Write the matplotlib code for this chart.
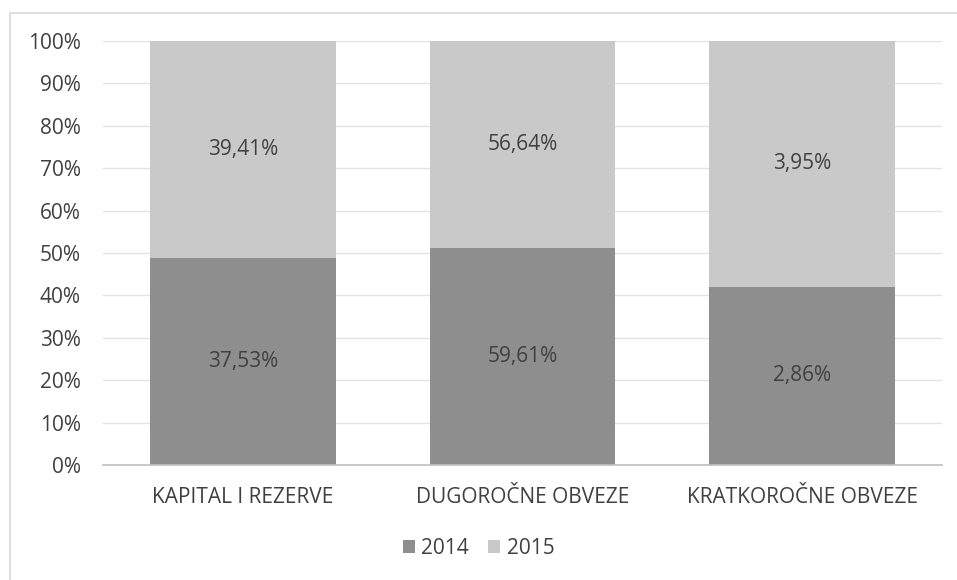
import matplotlib
import numpy as np

matplotlib.use("Agg")
import matplotlib.pyplot as plt  # noqa: E402
from matplotlib.patches import Rectangle  # noqa: E402

categories = ["KAPITAL I REZERVE", "DUGOROČNE OBVEZE", "KRATKOROČNE OBVEZE"]
years = ["2014", "2015"]
values_2014 = [37.53, 59.61, 2.86]
values_2015 = [39.41, 56.64, 3.95]
y_ticks = [0, 10, 20, 30, 40, 50, 60, 70, 80, 90, 100]

COL_2014 = "#8e8e8e"
COL_2015 = "#c9c9c9"
TXT = "#404040"
FS = 15


def fmt(v):
    return f"{v:.2f}".replace(".", ",") + "%"


def main():
    plt.rcParams["font.family"] = ["Open Sans", "DejaVu Sans"]
    v14 = np.array(values_2014)
    v15 = np.array(values_2015)
    total = v14 + v15
    share14 = v14 / total * 100
    share15 = v15 / total * 100
    x = np.arange(len(categories))

    fig = plt.figure(figsize=(9.57, 5.80), dpi=100)
    # outer chart border
    fig.patches.append(
        Rectangle((10 / 957, -0.1), 1.2, 1.1 - 13 / 580, transform=fig.transFigure,
                  facecolor="none", edgecolor="#d9d9d9", linewidth=1.2)
    )
    ax = fig.add_axes([103 / 957, 115 / 580, 839 / 957, 424 / 580])

    b1 = ax.bar(x, share14, width=0.665, color=COL_2014, label=years[0], zorder=2)
    b2 = ax.bar(x, share15, width=0.665, bottom=share14, color=COL_2015,
                label=years[1], zorder=2)
    ax.bar_label(b1, labels=[fmt(v) for v in v14], label_type="center",
                 color=TXT, fontsize=FS)
    ax.bar_label(b2, labels=[fmt(v) for v in v15], label_type="center",
                 color=TXT, fontsize=FS)

    ax.set_xlim(-0.5, len(categories) - 0.5)
    ax.set_ylim(0, 100)
    ax.set_yticks(y_ticks)
    ax.set_yticklabels([f"{t}%" for t in y_ticks])
    ax.set_xticks(x)
    ax.set_xticklabels(categories)
    ax.tick_params(axis="both", length=0, labelsize=FS, colors=TXT)
    ax.tick_params(axis="x", pad=16)
    ax.tick_params(axis="y", pad=16)
    ax.grid(axis="y", color="#e3e3e3", linewidth=1.0, zorder=0)
    for side in ["top", "left", "right"]:
        ax.spines[side].set_visible(False)
    ax.spines["bottom"].set_color("#bfbfbf")
    ax.spines["bottom"].set_linewidth(1.2)

    fig.legend(loc="center", bbox_to_anchor=(0.5, 32 / 580), ncol=2, frameon=False,
               fontsize=FS, labelcolor=TXT, handlelength=0.6, handleheight=0.6,
               handletextpad=0.3, columnspacing=0.9)

    fig.savefig("out.png", dpi=100)
    plt.close(fig)


if __name__ == "__main__":
    main()
